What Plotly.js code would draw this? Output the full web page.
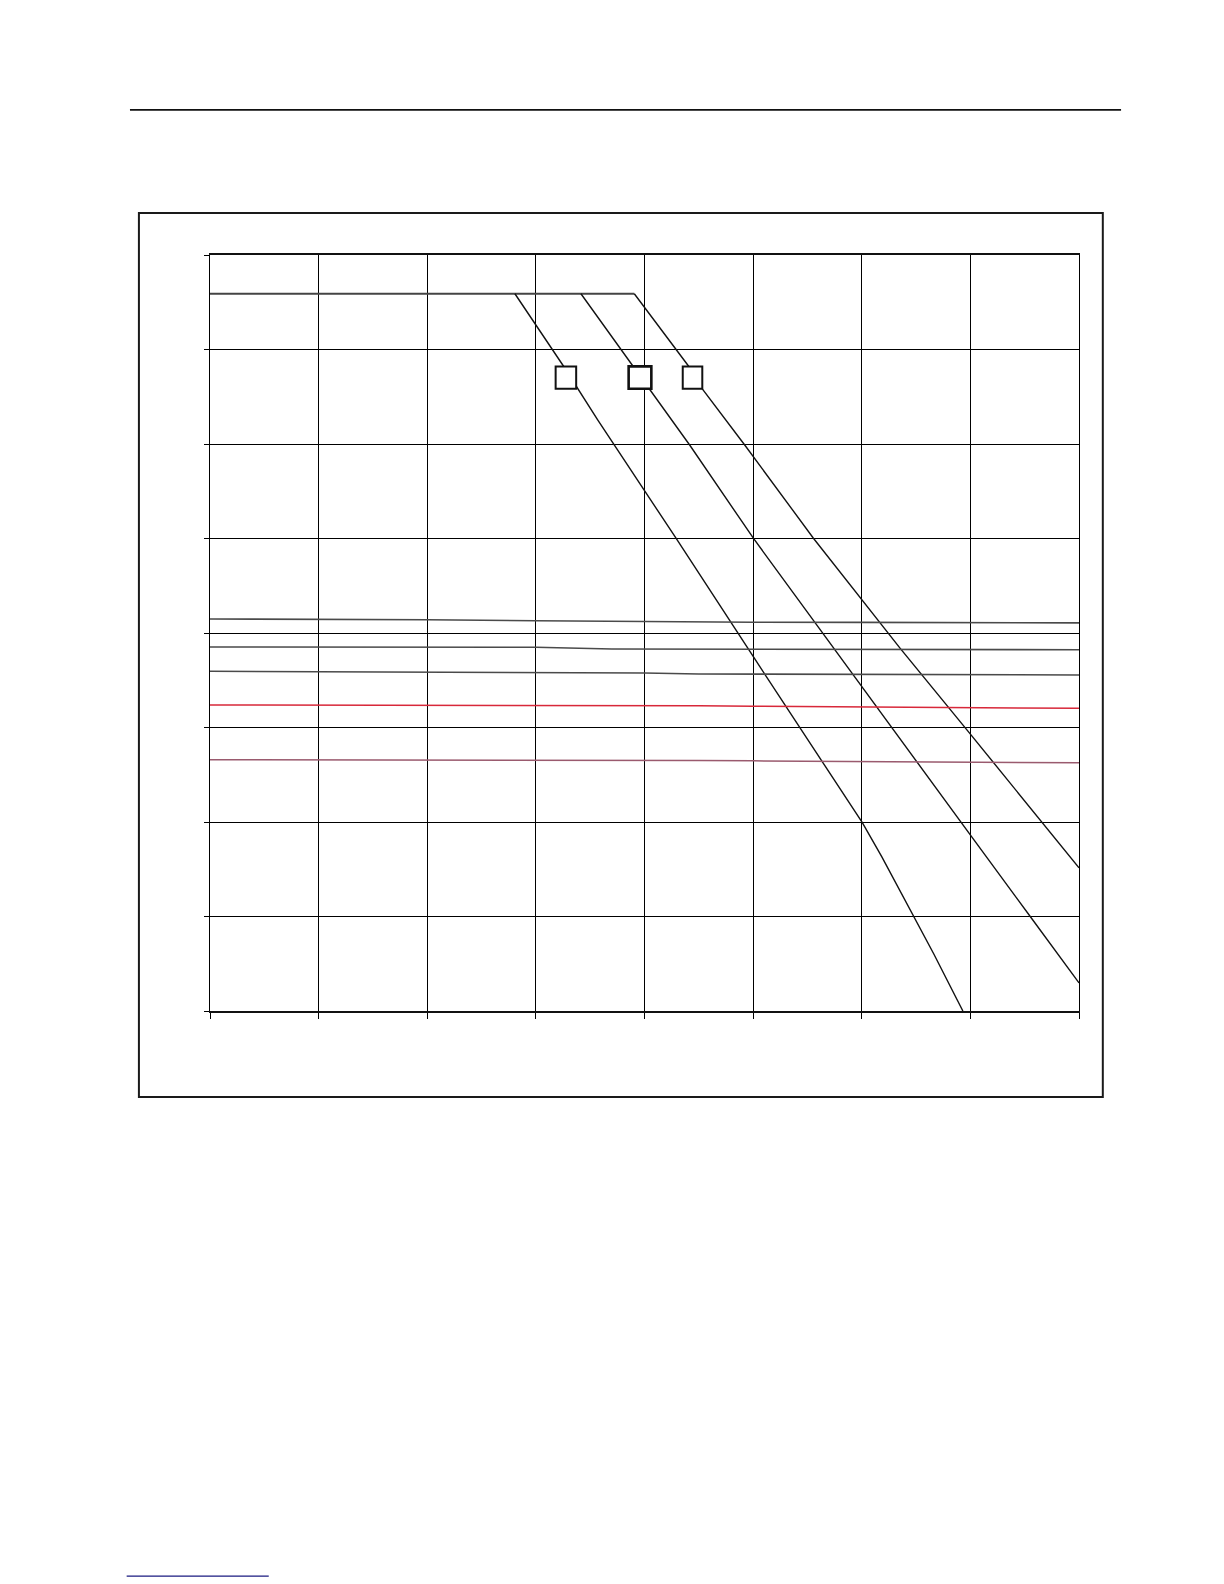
<!DOCTYPE html>
<html>
<head>
<meta charset="utf-8">
<script src="https://cdn.plot.ly/plotly-3.0.1.min.js"></script>
<style>
  html, body { margin: 0; padding: 0; background: #fff; }
  #graph { width: 1224px; height: 1584px; }
</style>
</head>
<body>
<div id="graph"></div>
<script>
// values (grid units, 8 x 8 divisions)
var flatX = [0, 2.807, 3.415, 3.906];
var flatY = [7.59, 7.59, 7.59, 7.59];

// three falling curves
var c1x = [2.807, 3.252, 3.569, 4.007, 4.29, 5.002, 6.004, 6.185, 6.476, 6.661, 6.931];
var c1y = [7.59, 6.828, 6.256, 5.497, 5.003, 3.749, 1.995, 1.631, 1.0, 0.608, 0];
var c2x = [3.415, 3.891, 4.041, 4.419, 5.002, 5.887, 7.001, 7.551, 8.0];
var c2y = [7.59, 6.828, 6.584, 5.984, 5.003, 3.608, 1.861, 1.0, 0.297];
var c3x = [3.906, 4.403, 4.532, 4.926, 5.555, 6.006, 6.354, 7.0, 7.659, 8.0];
var c3y = [7.59, 6.828, 6.584, 5.984, 5.003, 4.35, 3.838, 2.93, 1.995, 1.515];

// nearly flat curves
var hx = [0, 1, 2, 3, 3.7, 4, 4.5, 5, 6, 7, 8];
var hA = [4.148, 4.146, 4.141, 4.13, 4.124, 4.122, 4.116, 4.114, 4.112, 4.11, 4.107];
var hB = [3.852, 3.852, 3.851, 3.849, 3.831, 3.83, 3.828, 3.827, 3.826, 3.825, 3.823];
var hC = [3.595, 3.592, 3.588, 3.583, 3.58, 3.577, 3.566, 3.564, 3.561, 3.558, 3.556];
var hRed = [3.238, 3.238, 3.238, 3.238, 3.237, 3.236, 3.231, 3.225, 3.216, 3.209, 3.203];
var hPink = [2.658, 2.658, 2.657, 2.656, 2.655, 2.654, 2.652, 2.647, 2.64, 2.633, 2.627];

// label boxes on the falling curves (empty)
var boxX0 = [3.182, 3.854, 4.352];
var boxX1 = [3.371, 4.063, 4.532];
var boxY0 = [6.584, 6.584, 6.584];
var boxY1 = [6.821, 6.821, 6.821];

function line(x, y, color, w) {
  return { x: x, y: y, type: 'scatter', mode: 'lines', hoverinfo: 'skip',
           line: { color: color, width: w } };
}

var data = [
  line(flatX, flatY, '#444', 2),
  line(c1x, c1y, '#111', 1.4),
  line(c2x, c2y, '#111', 1.4),
  line(c3x, c3y, '#111', 1.4),
  line(hx, hA, '#4a4a4a', 1.6),
  line(hx, hB, '#4a4a4a', 1.6),
  line(hx, hC, '#4a4a4a', 1.6),
  line(hx, hRed, '#d8283a', 1.5),
  line(hx, hPink, '#9a5a6e', 1.5)
];

var shapes = [];
for (var i = 0; i < boxX0.length; i++) {
  shapes.push({ type: 'rect', xref: 'x', yref: 'y', layer: 'above',
    x0: boxX0[i], x1: boxX1[i], y0: boxY0[i], y1: boxY1[i],
    fillcolor: '#fff', line: { color: '#111', width: i == 1 ? 2.6 : 2 } });
}
// frame round the chart
shapes.push({ type: 'rect', xref: 'paper', yref: 'paper',
  x0: -0.0818, x1: 1.0274, y0: -0.1139, y1: 1.0556,
  line: { color: '#1a1a1a', width: 2 } });
// page header rule
shapes.push({ type: 'line', xref: 'paper', yref: 'paper',
  x0: -0.0921, x1: 1.0484, y0: 1.192, y1: 1.192,
  line: { color: '#111', width: 1.6 } });
// link underline at page foot
shapes.push({ type: 'line', xref: 'paper', yref: 'paper',
  x0: -0.0959, x1: 0.0676, y0: -0.7474, y1: -0.7474,
  line: { color: '#1a1a80', width: 1.3 } });

var layout = {
  width: 1224,
  height: 1584,
  margin: { l: 210, r: 145, t: 255, b: 573 },
  paper_bgcolor: '#fff',
  plot_bgcolor: '#fff',
  showlegend: false,
  xaxis: {
    range: [0, 8], dtick: 1, tick0: 0,
    showgrid: true, gridcolor: '#000', gridwidth: 1,
    zeroline: false, showticklabels: false,
    ticks: 'outside', ticklen: 6, tickwidth: 1, tickcolor: '#000',
    showline: true, linecolor: '#111', linewidth: 2, mirror: true
  },
  yaxis: {
    range: [0, 8], dtick: 1, tick0: 0,
    showgrid: true, gridcolor: '#000', gridwidth: 1,
    zeroline: false, showticklabels: false,
    ticks: 'outside', ticklen: 5, tickwidth: 1, tickcolor: '#000',
    showline: true, linecolor: '#000', linewidth: 1, mirror: true
  },
  shapes: shapes
};

Plotly.newPlot('graph', data, layout, { staticPlot: true });
</script>
</body>
</html>
